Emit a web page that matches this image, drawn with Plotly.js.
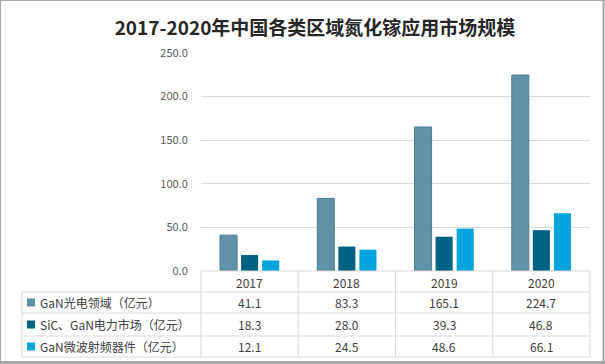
<!DOCTYPE html>
<html><head><meta charset="utf-8">
<script src="https://cdn.plot.ly/plotly-3.0.1.min.js"></script>
<style>html,body{margin:0;padding:0;background:#fff;}#chart{width:605px;height:364px;}</style>
</head><body><div id="chart"></div>
<script>
var years = ['2017', '2018', '2019', '2020'];
var seriesNames = ['GaN光电领域（亿元）', 'SiC、GaN电力市场（亿元）', 'GaN微波射频器件（亿元）'];
var ganOpto = [41.1, 83.3, 165.1, 224.7];
var powerMarket = [18.3, 28.0, 39.3, 46.8];
var ganRF = [12.1, 24.5, 48.6, 66.1];
var yTicks = [0, 50, 100, 150, 200, 250];

var seriesValues = [ganOpto, powerMarket, ganRF];
var colors = ['#5f91a8', '#006283', '#00a4dc'];
var lineColors = ['#4f7f96', '#006283', '#00a4dc'];

var W = 605, H = 364;
var L = 201, R = 590, T = 53, B = 271;
function px(x) { return (x - L) / (R - L); }
function py(y) { return (B - y) / (B - T); }

var traces = seriesNames.map(function (n, i) {
  return {
    type: 'bar', name: n, x: years, y: seriesValues[i],
    marker: {color: colors[i], line: {color: lineColors[i], width: i === 0 ? 1 : 0}},
    hoverinfo: 'none'
  };
});

var gridCol = '#d9d9d9';
var shapes = [];
var annotations = [];
var rowLines = [292, 313, 336, 357];
rowLines.forEach(function (yy) {
  shapes.push({type: 'line', xref: 'paper', yref: 'paper', x0: px(22), x1: px(R), y0: py(yy), y1: py(yy), line: {color: gridCol, width: 1}});
});
var colEdges = [];
for (var k = 0; k <= years.length; k++) colEdges.push(L + k * (R - L) / years.length);
colEdges.forEach(function (xx) {
  shapes.push({type: 'line', xref: 'paper', yref: 'paper', x0: px(xx), x1: px(xx), y0: py(B), y1: py(357), line: {color: gridCol, width: 1}});
});
shapes.push({type: 'line', xref: 'paper', yref: 'paper', x0: px(R), x1: px(L), y0: py(B), y1: py(B), line: {color: gridCol, width: 1}});
shapes.push({type: 'line', xref: 'paper', yref: 'paper', x0: px(22), x1: px(22), y0: py(292), y1: py(357), line: {color: gridCol, width: 1}});
// outer frame
shapes.push({type: 'line', xref: 'paper', yref: 'paper', x0: px(0), x1: px(W), y0: py(0.5), y1: py(0.5), line: {color: '#a6a6a6', width: 1}});
shapes.push({type: 'line', xref: 'paper', yref: 'paper', x0: px(0.5), x1: px(0.5), y0: py(0), y1: py(H), line: {color: '#a6a6a6', width: 1}});
shapes.push({type: 'line', xref: 'paper', yref: 'paper', x0: px(603.5), x1: px(603.5), y0: py(0), y1: py(H), line: {color: '#a6a6a6', width: 2}});
shapes.push({type: 'line', xref: 'paper', yref: 'paper', x0: px(0), x1: px(W), y0: py(362.5), y1: py(362.5), line: {color: '#a6a6a6', width: 3}});

var txtFont = {family: 'Noto Sans CJK SC, sans-serif', size: 12, color: '#404040'};
years.forEach(function (yr, j) {
  annotations.push({xref: 'x', yref: 'paper', x: j, y: py(282), text: yr, showarrow: false, font: txtFont, xanchor: 'center', yanchor: 'middle'});
});
var rowCenters = [302.5, 324.5, 346.5];
seriesNames.forEach(function (n, i) {
  var yc = rowCenters[i];
  shapes.push({type: 'rect', xref: 'paper', yref: 'paper', x0: px(27), x1: px(35), y0: py(yc - 4), y1: py(yc + 4), fillcolor: colors[i], line: {width: 0}});
  annotations.push({xref: 'paper', yref: 'paper', x: px(38), y: py(yc), text: n, showarrow: false, font: txtFont, xanchor: 'left', yanchor: 'middle'});
  seriesValues[i].forEach(function (v, j) {
    annotations.push({xref: 'x', yref: 'paper', x: j, y: py(yc), text: v.toFixed(1), showarrow: false, font: txtFont, xanchor: 'center', yanchor: 'middle'});
  });
});

var layout = {
  width: W, height: H,
  margin: {l: L, r: W - R, t: T, b: H - B, pad: 0},
  paper_bgcolor: '#ffffff', plot_bgcolor: '#ffffff',
  showlegend: false,
  barmode: 'group', bargap: 0.35, bargroupgap: 0.19,
  title: {text: '<b>2017-2020年中国各类区域氮化镓应用市场规模</b>', x: 315 / W, xref: 'container', xanchor: 'center', y: 1 - 28 / H, yref: 'container', yanchor: 'middle',
    font: {family: 'Noto Sans CJK SC, sans-serif', size: 19, color: '#262626'}},
  xaxis: {type: 'category', range: [-0.5, 3.5], autorange: false, showticklabels: false, showgrid: false, zeroline: false, showline: false, ticks: ''},
  yaxis: {range: [0, 250], tickvals: yTicks, tickformat: '.1f', showgrid: true, gridcolor: gridCol, gridwidth: 1, zeroline: false, showline: false,
    ticks: 'outside', ticklen: 10, tickcolor: 'rgba(0,0,0,0)', tickfont: {family: 'Noto Sans CJK SC, sans-serif', size: 11, color: '#595959'}},
  shapes: shapes, annotations: annotations
};
Plotly.newPlot('chart', traces, layout, {staticPlot: true, displayModeBar: false});
</script></body></html>
